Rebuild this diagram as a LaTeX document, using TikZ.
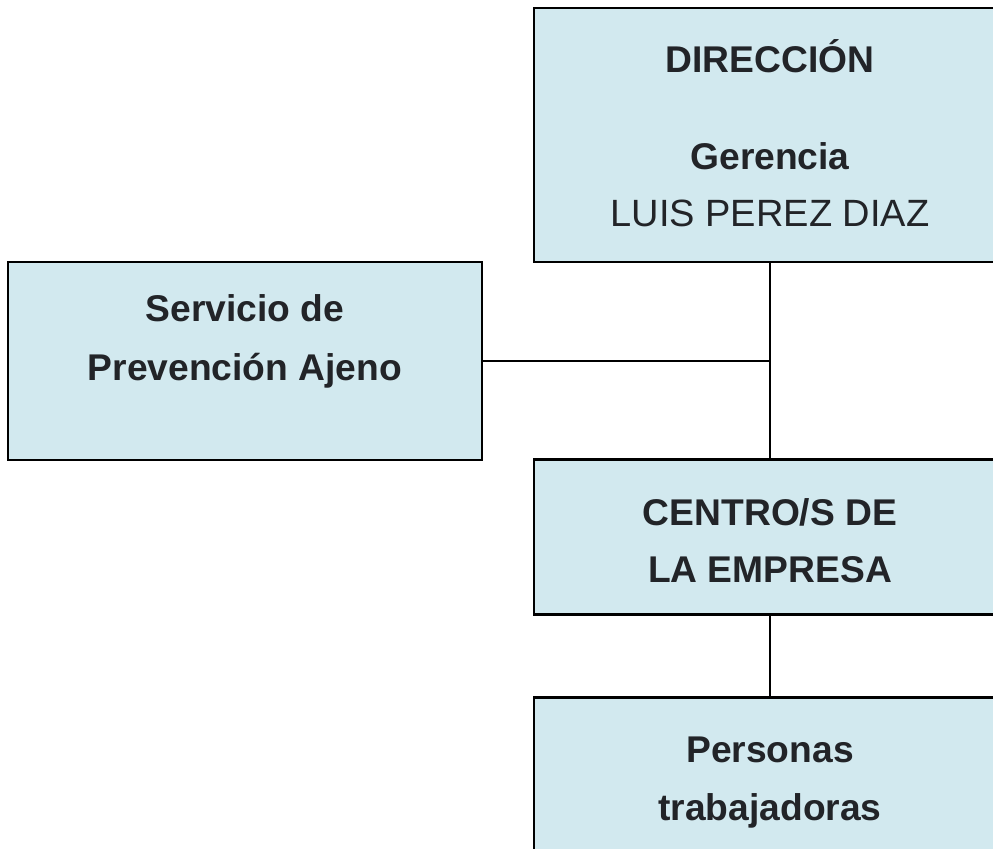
\documentclass[tikz,border=0pt]{standalone}
\usepackage{fontspec}
\setmainfont{Liberation Sans}
\usetikzlibrary{positioning}
\definecolor{boxfill}{HTML}{D2E9EF}
\definecolor{txtcol}{HTML}{222428}

\begin{document}
\begin{tikzpicture}[x=0.5pt, y=-0.5pt,
	box/.style = {draw, fill=boxfill, line width=1.1pt, rectangle, inner sep=0pt},
	txt/.style = {text=txtcol, align=center, anchor=base, inner sep=0pt,
		font=\fontsize{18.6pt}{29pt}\selectfont\bfseries},
	link/.style = {draw, line width=1.1pt}]
	\useasboundingbox (0,0) rectangle (993,849);
	\clip (0,0) rectangle (993,849);
	% boxes
	\node[box, minimum width=236pt, minimum height=127pt] (dir) at (770, 135){};
	\node[box, minimum width=237pt, minimum height=99pt] (srv) at (245, 361){};
	\node[box, minimum width=236pt, minimum height=77.5pt] (cen) at (770, 537){};
	\node[box, minimum width=236pt, minimum height=77.5pt] (per) at (770, 775){};
	% texts
	\node[txt] (dirtxt) at (770, 227){DIRECCIÓN\\[19.5pt] Gerencia\\[-0.5pt] {\mdseries\fontsize{19pt}{29pt}\selectfont LUIS PEREZ DIAZ}};
	\node[txt] (srvtxt) at (245, 381){Servicio de\\[0.5pt] Prevención Ajeno};
	\node[txt] (centxt) at (770, 583){CENTRO/S DE\\[-0.5pt] LA EMPRESA};
	\node[txt] (pertxt) at (770, 821){Personas\\ trabajadoras};
	% links
	\coordinate (jn) at (dir.south |- srv.east);
	\draw[link] (dir.south) -- (cen.north);
	\draw[link] (srv.east) -- (jn);
	\draw[link] (cen.south) -- (per.north);
\end{tikzpicture}
\end{document}
